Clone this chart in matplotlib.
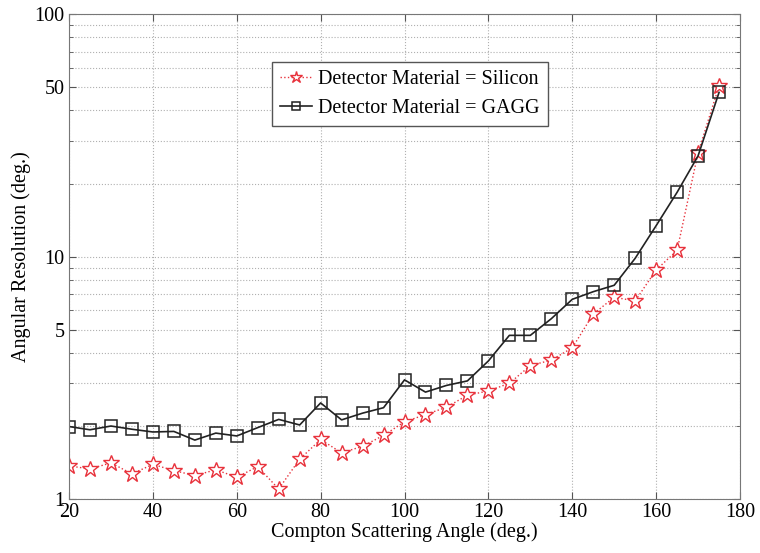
import numpy as np
import matplotlib.pyplot as plt
from matplotlib.ticker import FixedLocator, LogLocator, NullFormatter

angles = [20, 25, 30, 35, 40, 45, 50, 55, 60, 65, 70, 75, 80, 85, 90, 95, 100,
          105, 110, 115, 120, 125, 130, 135, 140, 145, 150, 155, 160, 165, 170, 175]

silicon = [1.37, 1.33, 1.41, 1.27, 1.39, 1.31, 1.25, 1.32, 1.23, 1.36, 1.10, 1.46,
           1.76, 1.55, 1.65, 1.83, 2.08, 2.23, 2.39, 2.68, 2.79, 3.0, 3.55, 3.74,
           4.2, 5.79, 6.79, 6.56, 8.8, 10.6, 26.8, 50.5]

gagg = [1.99, 1.93, 2.0, 1.94, 1.89, 1.90, 1.75, 1.87, 1.82, 1.97, 2.13, 2.02,
        2.49, 2.12, 2.26, 2.38, 3.1, 2.76, 2.94, 3.07, 3.71, 4.73, 4.73, 5.54,
        6.66, 7.16, 7.61, 9.83, 13.4, 18.4, 26.0, 47.5]

plt.rcParams['font.family'] = ['Liberation Serif', 'DejaVu Serif']
plt.rcParams['font.size'] = 14.5

fig = plt.figure(figsize=(7.6, 5.53), dpi=100)
ax = fig.add_axes([0.0908, 0.0976, 0.8829, 0.8771])

ax.semilogy(angles, silicon, color='#e8323c', linestyle=':', linewidth=1.0,
            marker='*', markersize=12, markerfacecolor='white',
            markeredgecolor='#e8323c', markeredgewidth=1.0,
            label='Detector Material = Silicon')
ax.semilogy(angles, gagg, color='#222222', linestyle='-', linewidth=1.2,
            marker='s', markersize=8.5, markerfacecolor='none',
            markeredgecolor='#222222', markeredgewidth=1.1,
            label='Detector Material = GAGG')

ax.set_xlim(20, 180)
ax.set_ylim(1, 100)
ax.set_xticks(np.arange(20, 181, 20))
ax.yaxis.set_major_locator(FixedLocator([1, 5, 10, 50, 100]))
ax.yaxis.set_major_formatter(plt.FixedFormatter(['1', '5', '10', '50', '100']))
ax.yaxis.set_minor_locator(LogLocator(base=10, subs=(2, 3, 4, 6, 7, 8, 9)))
ax.yaxis.set_minor_formatter(NullFormatter())

ax.grid(True, which='major', linestyle=':', color='#b0b0b0', linewidth=0.8)
ax.grid(True, which='minor', axis='y', linestyle=':', color='#b0b0b0', linewidth=0.8)
ax.tick_params(which='both', direction='in', top=True, right=True, color='#555555')
ax.tick_params(which='major', length=5, pad=3)
ax.tick_params(which='minor', length=3)
for s in ax.spines.values():
    s.set_color('#777777')

ax.set_xlabel('Compton Scattering Angle (deg.)', labelpad=0)
ax.set_ylabel('Angular Resolution (deg.)', labelpad=3)

leg = ax.legend(loc='upper left', bbox_to_anchor=(0.3025, 0.901), fancybox=False,
                framealpha=1, edgecolor='#555555', borderpad=0.4,
                handlelength=1.6, handletextpad=0.3, labelspacing=0.5,
                markerscale=0.75, borderaxespad=0)
leg.get_frame().set_linewidth(1.0)

fig.savefig('out.png', dpi=100)
